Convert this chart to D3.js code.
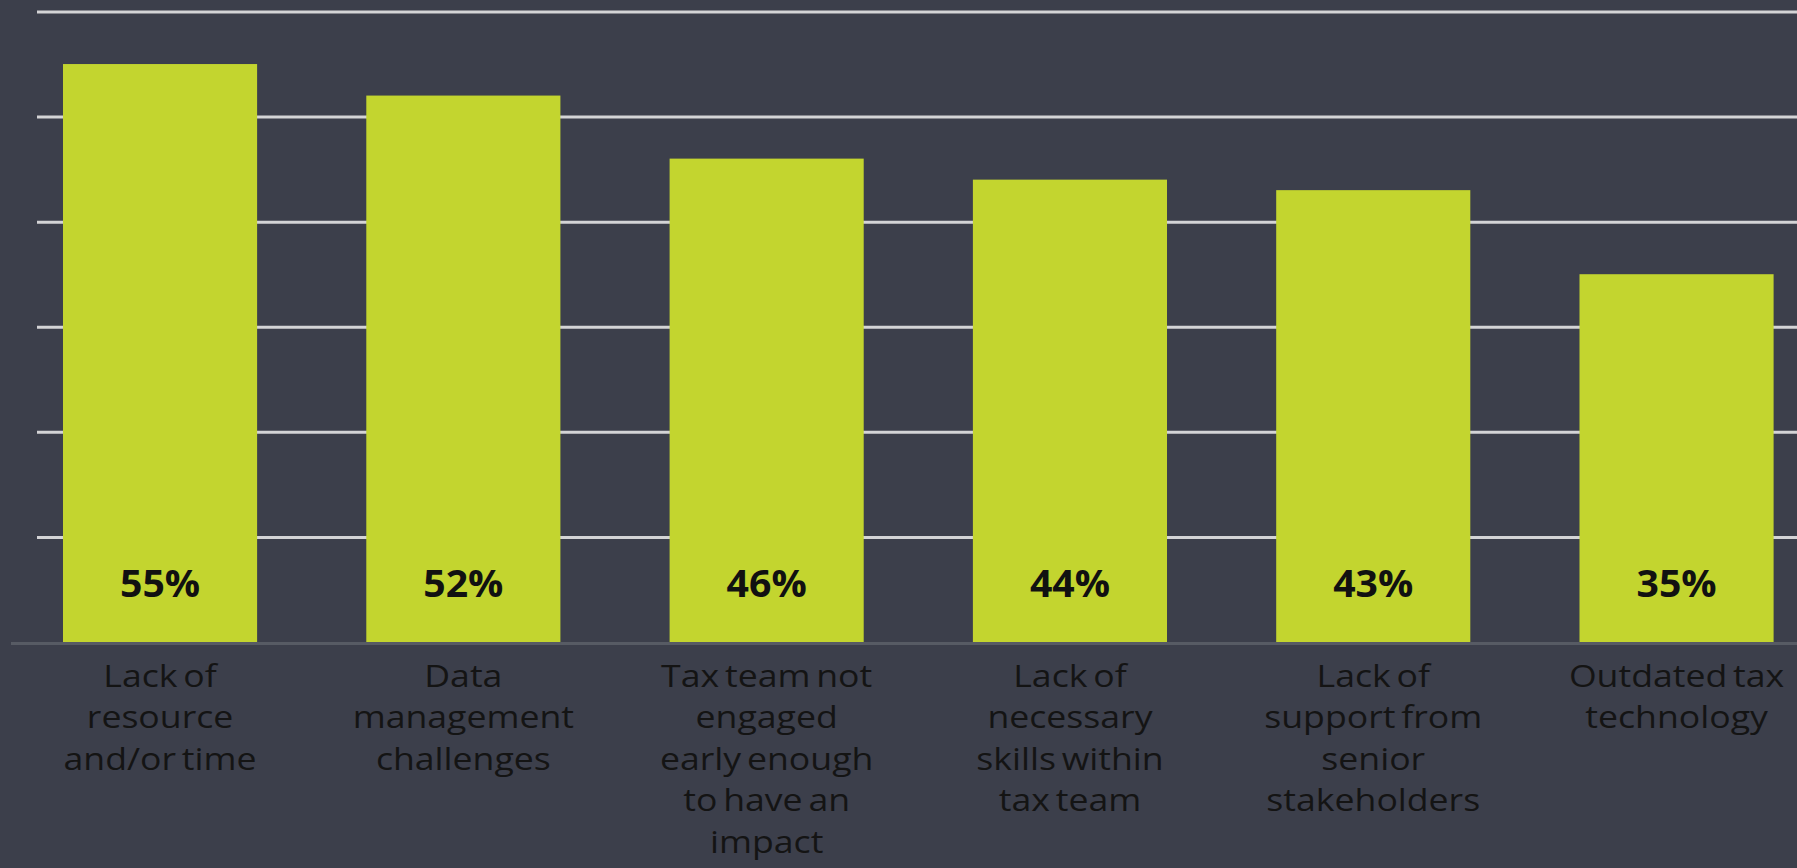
<!DOCTYPE html>
<html>
<head>
<meta charset="utf-8">
<script src="https://cdn.jsdelivr.net/npm/d3@7"></script>
<style>
  html, body { margin: 0; padding: 0; background: #3c3f4b; overflow: hidden; }
  svg { display: block; }
</style>
</head>
<body>
<svg id="chart" width="1797" height="868"></svg>
<script>
// Survey results: main obstacles faced by tax teams
const categories = [
  "Lack of resource and/or time",
  "Data management challenges",
  "Tax team not engaged early enough to have an impact",
  "Lack of necessary skills within tax team",
  "Lack of support from senior stakeholders",
  "Outdated tax technology"
];
const categoryLines = [
  ["Lack of", "resource", "and/or time"],
  ["Data", "management", "challenges"],
  ["Tax team not", "engaged", "early enough", "to have an", "impact"],
  ["Lack of", "necessary", "skills within", "tax team"],
  ["Lack of", "support from", "senior", "stakeholders"],
  ["Outdated tax", "technology"]
];
const values = [55, 52, 46, 44, 43, 35];
const gridTicks = [10, 20, 30, 40, 50, 60];

const W = 1797, H = 868;
const svg = d3.select("#chart");

const x = d3.scaleBand()
  .domain(categories)
  .range([8.4, 1828.2])
  .paddingInner(0.36)
  .paddingOuter(0.18);

const y = d3.scaleLinear()
  .domain([0, 60])
  .range([642, 11.5]);

// horizontal gridlines
const grid = svg.append("g")
  .attr("transform", "translate(37,0)")
  .call(d3.axisRight(y).tickValues(gridTicks).tickSize(W - 37).tickFormat(""));
grid.select(".domain").remove();
grid.selectAll(".tick line")
  .attr("stroke", "#d4d4d6")
  .attr("stroke-width", 3);

// bars
svg.append("g")
  .selectAll("rect")
  .data(values)
  .join("rect")
  .attr("x", (d, i) => x(categories[i]))
  .attr("y", d => y(d))
  .attr("width", x.bandwidth())
  .attr("height", d => y(0) - y(d))
  .attr("fill", "#c3d52f");

// baseline
svg.append("line")
  .attr("x1", 11).attr("x2", W)
  .attr("y1", y(0) + 1.5).attr("y2", y(0) + 1.5)
  .attr("stroke", "#575b64")
  .attr("stroke-width", 3);

// value labels
svg.append("g")
  .selectAll("text")
  .data(values)
  .join("text")
  .attr("transform", (d, i) => `translate(${x(categories[i]) + x.bandwidth() / 2},${y(0) - 45}) scale(1.06,1)`)
  .attr("text-anchor", "middle")
  .attr("font-family", "'Open Sans', sans-serif")
  .attr("font-weight", 700)
  .attr("font-size", 37)
  .attr("fill", "#111")
  .text(d => d + "%");

// category labels (slightly widened type)
const cat = svg.append("g")
  .selectAll("text")
  .data(categoryLines)
  .join("text")
  .attr("transform", (d, i) => `translate(${x(categories[i]) + x.bandwidth() / 2},0) scale(1.15,1)`)
  .attr("text-anchor", "middle")
  .attr("font-family", "'Open Sans', sans-serif")
  .attr("font-size", 31)
  .attr("word-spacing", -3)
  .attr("fill", "#141414");
cat.each(function (lines) {
  d3.select(this).selectAll("tspan")
    .data(lines)
    .join("tspan")
    .attr("x", 0)
    .attr("y", (d, j) => 687 + j * 41.5)
    .text(d => d);
});
</script>
</body>
</html>
